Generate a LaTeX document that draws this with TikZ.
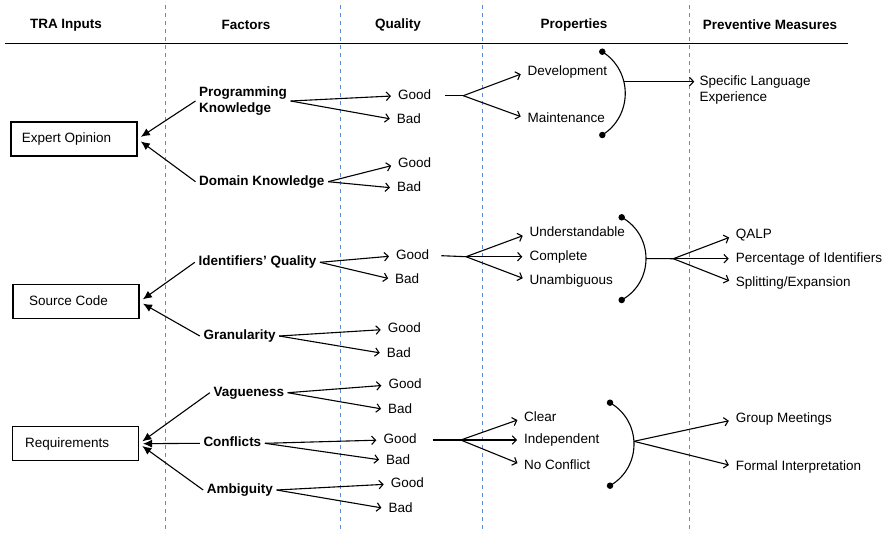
\documentclass[tikz,border=0pt]{standalone}
\usepackage{fontspec}
\setmainfont{Liberation Sans}
\usetikzlibrary{arrows.meta,calc}
\definecolor{lanecol}{HTML}{5E8CD4}
\begin{document}
\begin{tikzpicture}[x=1pt,y=-1pt,
  every node/.style={font=\fontsize{13.5}{16.5}\selectfont, inner sep=0pt},
  head/.style={font=\fontsize{13.5}{16.5}\selectfont\bfseries},
  lane/.style={draw=lanecol, line width=1pt, dash pattern=on 4pt off 4pt},
  inputbox/.style={draw, line width=1.1pt, minimum width=126pt, minimum height=34pt},
  txt/.style={anchor=west, text height=9.5pt, text depth=2.5pt},
  factor/.style={txt, font=\fontsize{13.5}{16.5}\selectfont\bfseries, inner xsep=3.5pt, align=left},
  line/.style={line width=1.1pt},
  opt/.style={line width=1.1pt, -{Straight Barb[length=4pt,width=8.5pt,line width=1.1pt]}, shorten >=7pt},
  feed/.style={line width=1.1pt, -{Latex[length=9pt,width=8pt]}, shorten >=4pt},
  dot/.style={circle, fill, minimum size=6.5pt, inner sep=0pt}
]
\useasboundingbox (0,0) rectangle (891,536);

% column headings and rule
\node[head] (h1) at (66,25) {TRA Inputs};
\node[head] (h2) at (246,25) {Factors};
\node[head] (h3) at (398,25) {Quality};
\node[head] (h4) at (574,25) {Properties};
\node[head] (h5) at (770,25) {Preventive Measures};
\coordinate (rl) at (5,43.5);
\coordinate (rr) at (848,43.5);
\draw[line] (rl) -- (rr);

% lane separators
\foreach \x/\n in {165/a,340/b,482/c,689/d}{
  \coordinate (lt\n) at (\x,5);
  \coordinate (lb\n) at (\x,533);
  \draw[lane] (lt\n) -- (lb\n);
}

% inputs
\node[inputbox] (eo) at (74,139) {};
\node[txt] (eot) at (21.7,139) {Expert Opinion};
\node[inputbox] (sc) at (76,301.7) {};
\node[txt] (sct) at (29,301.7) {Source Code};
\node[inputbox] (rq) at (75.5,443.7) {};
\node[txt] (rqt) at (25,443.7) {Requirements};

% factors
\node[factor, text height=, text depth=] (pk) at (195.5,101) {Programming\\Knowledge};
\node[factor] (dk) at (195.5,181.7) {Domain Knowledge};
\node[factor] (iq) at (194.8,262.3) {Identifiers’ Quality};
\node[factor] (gr) at (199.8,336) {Granularity};
\node[factor] (va) at (209.8,392.7) {Vagueness};
\node[factor] (co) at (199.8,443.3) {Conflicts};
\node[factor] (am) at (203.2,490) {Ambiguity};

\draw[feed] (pk.west) -- (eo.east);
\draw[feed] (dk.west) -- (eo.east);
\draw[feed] (iq.west) -- (sc.east);
\draw[feed] (gr.west) -- (sc.east);
\draw[feed] (va.west) -- (rq.east);
\draw[feed] (co.west) -- (rq.east);
\draw[feed] (am.west) -- (rq.east);

% quality
\node[txt] (pkg) at (398,95.7) {Good};
\node[txt] (pkb) at (396.7,120) {Bad};
\node[txt] (dkg) at (398,164) {Good};
\node[txt] (dkb) at (397,188.3) {Bad};
\node[txt] (iqg) at (396,255.7) {Good};
\node[txt] (iqb) at (395,280) {Bad};
\node[txt] (grg) at (387.7,329.3) {Good};
\node[txt] (grb) at (386.7,354) {Bad};
\node[txt] (vag) at (388.3,385) {Good};
\node[txt] (vab) at (388,410) {Bad};
\node[txt] (cog) at (383.3,440) {Good};
\node[txt] (cob) at (386,460.7) {Bad};
\node[txt] (amg) at (390.7,484) {Good};
\node[txt] (amb) at (388.3,509) {Bad};

\foreach \f in {pk,dk,iq,gr,va,co,am}{
  \draw[opt] (\f.east) -- (\f g.west);
  \draw[opt] (\f.east) -- (\f b.west);
}

% properties
\coordinate (j1) at (463.3,95.7);
\coordinate (j2) at (466,256.7);
\coordinate (j3) at (460.7,440);
\draw[line] ([xshift=14pt]pkg.east) -- (j1);
\draw[line] ([xshift=12pt]iqg.east) -- (j2);
\draw[line] ([xshift=16pt]cog.east) -- (j3);

\node[txt] (dev) at (527.3,71.7) {Development};
\node[txt] (mnt) at (527.3,119) {Maintenance};
\draw[opt] (j1) -- (dev.west);
\draw[opt] (j1) -- (mnt.west);

\node[txt] (und) at (529.3,233.3) {Understandable};
\node[txt] (cpl) at (529.3,256.7) {Complete};
\node[txt] (una) at (529.3,280.7) {Unambiguous};
\draw[opt] (j2) -- (und.west);
\draw[opt] (j2) -- (cpl.west);
\draw[opt] (j2) -- (una.west);

\node[txt] (clr) at (524,417.7) {Clear};
\node[txt] (ind) at (524,440) {Independent};
\node[txt] (ncf) at (524,465.7) {No Conflict};
\draw[opt] (j3) -- (clr.west);
\draw[opt] (j3) -- (ind.west);
\draw[opt] (j3) -- (ncf.west);

% grouping arcs
\node[dot] (d1a) at (602.3,51.7) {};
\node[dot] (d1b) at (602.3,135) {};
\draw[line] (d1a.center) .. controls (632.9,71) and (632.9,115.7) .. (d1b.center)
  coordinate[pos=0.377] (m1);
\node[dot] (d2a) at (621.7,217.3) {};
\node[dot] (d2b) at (621.7,300) {};
\draw[line] (d2a.center) .. controls (654.1,235.3) and (654.1,282) .. (d2b.center)
  coordinate[pos=0.5] (m2);
\node[dot] (d3a) at (610,402.7) {};
\node[dot] (d3b) at (610,485.7) {};
\draw[line] (d3a.center) .. controls (642,421.1) and (642,467.3) .. (d3b.center)
  coordinate[pos=0.47] (m3);

% preventive measures
\node[txt, align=left, text height=, text depth=] (sle) at (699.3,90) {Specific Language\\Experience};
\draw[opt, shorten >=5pt] (m1) -- (m1 -| sle.west);

\coordinate (k2) at (673.3,258.7);
\node[txt] (qalp) at (735.7,235) {QALP};
\node[txt] (poi) at (735.7,258.7) {Percentage of Identifiers};
\node[txt] (spx) at (735.7,283.3) {Splitting/Expansion};
\draw[line] (m2) -- (k2);
\draw[opt] (k2) -- (qalp.west);
\draw[opt] (k2) -- (poi.west);
\draw[opt] (k2) -- (spx.west);

\node[txt] (gm) at (735.7,419.3) {Group Meetings};
\node[txt] (fi) at (735.7,466.7) {Formal Interpretation};
\draw[opt] (m3) -- (gm.west);
\draw[opt] (m3) -- (fi.west);
\end{tikzpicture}
\end{document}
